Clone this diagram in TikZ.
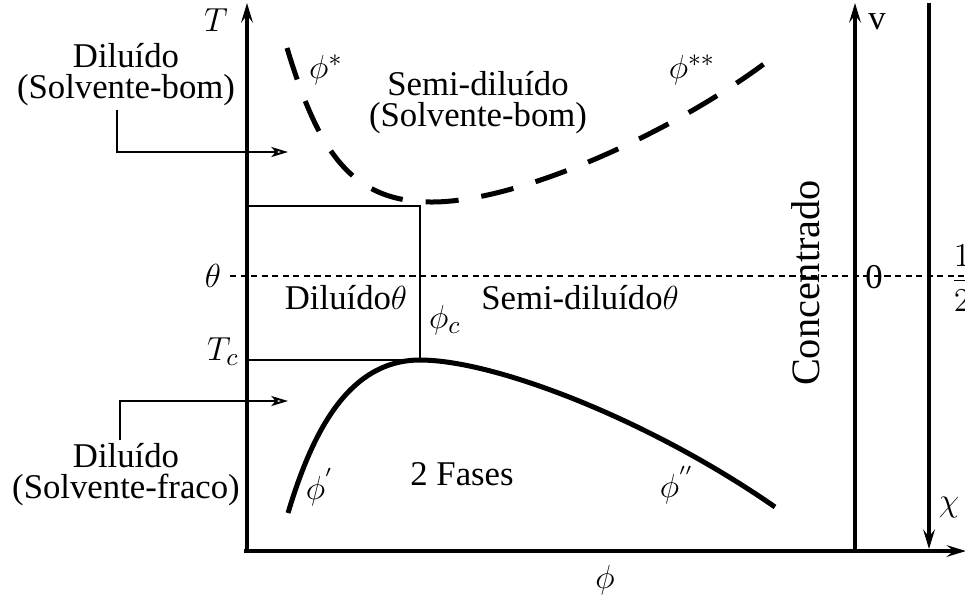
\documentclass[tikz,border=0pt]{standalone}
\usepackage{fontspec}
\setmainfont{Liberation Serif}
\usetikzlibrary{arrows.meta}
\begin{document}
\begin{tikzpicture}[x=0.36pt,y=-0.36pt,
  font=\fontsize{12.5}{11.2}\selectfont,
  every node/.style={inner sep=0pt},
  axisline/.style={line width=1.7pt},
  axtip/.style={-{Stealth[length=7pt,width=4.2pt,inset=2.6pt]}},
  curve/.style={line width=1.8pt},
  dashcurve/.style={line width=1.8pt, dash pattern=on 11.9pt off 8.3pt},
  thinbox/.style={line width=0.8pt},
  conn/.style={line width=0.7pt, -{Stealth[open,length=6pt,width=3.6pt,inset=1.5pt]}},
  dotline/.style={line width=0.7pt, dash pattern=on 2.2pt off 1.6pt}]
\useasboundingbox (0,0) rectangle (965,598);

% axes
\coordinate (O) at (247,551);
\coordinate (Ttop) at (247,3);
\coordinate (Xleft) at (244,551);
\coordinate (Xend) at (966,551);
\coordinate (vbot) at (855,553);
\coordinate (vtop) at (855,3);
\coordinate (rtop) at (929,3);
\coordinate (rbot) at (929,549);
\draw[axisline,axtip] (O) -- (Ttop);
\draw[axisline,axtip] (Xleft) -- (Xend);
\draw[axisline,axtip] (vbot) -- (vtop);
\draw[axisline,axtip] (rtop) -- (rbot);

% dotted theta line
\coordinate (dotL) at (230,276);
\coordinate (dotR) at (965,276);
\draw[dotline] (dotL) -- (dotR);

% rectangle
\coordinate (boxTL) at (247,206);
\coordinate (boxBR) at (420,360);
\draw[thinbox] (boxTL) -| (boxBR) -- (boxBR -| boxTL);

% dashed curve phi*
\draw[dashcurve] (287,48) .. controls (318,150) and (350,202) .. (432,202)
  .. controls (520,202) and (680,130) .. (777,54);

% coexistence curve
\draw[curve] (288,513) .. controls (310,440) and (345,360) .. (420,360)
  .. controls (495,360) and (650,420) .. (775,507);

% axis labels
\node (T) at (216,20) {$T$};
\node (v) at (877,22) {v};
\node (chi) at (949,508) {$\chi$};
\node (theta) at (213,276) {$\theta$};
\node (Tc) at (223,352) {$T_c$};
\node (zero) at (874,277) {0};
\node[anchor=west] (half) at (950,278) {$\displaystyle\frac{1}{2}$};
\node (phi) at (605,580) {$\phi$};

% region labels
\node[align=center] (dilbom) at (126,75) {Diluído\\(Solvente-bom)};
\node[align=center] (semibom) at (478,103) {Semi-diluído\\(Solvente-bom)};
\node (phistar) at (326,70) {$\phi^{*}$};
\node (phistarstar) at (692,70) {$\phi^{**}$};
\node (dilth) at (346,298) {Diluído$\theta$};
\node (semith) at (580,298) {Semi-diluído$\theta$};
\node (phic) at (445,320) {$\phi_c$};
\node[rotate=90, font=\fontsize{14.5}{14}\selectfont] (conc) at (806,283) {Concentrado};
\node (fases) at (462,474) {2 Fases};
\node (phip) at (320,487) {$\phi^{'}$};
\node (phipp) at (677,485) {$\phi^{''}$};
\node[align=center] (dilfraco) at (126,475) {Diluído\\(Solvente-fraco)};

% connectors
\coordinate (tgt1) at (288,152);
\coordinate (tgt2) at (288,401);
\draw[conn] ([xshift=-3.2pt,yshift=-1pt]dilbom.south) |- (tgt1);
\draw[conn] ([xshift=-2.2pt,yshift=1pt]dilfraco.north) |- (tgt2);
\end{tikzpicture}
\end{document}
